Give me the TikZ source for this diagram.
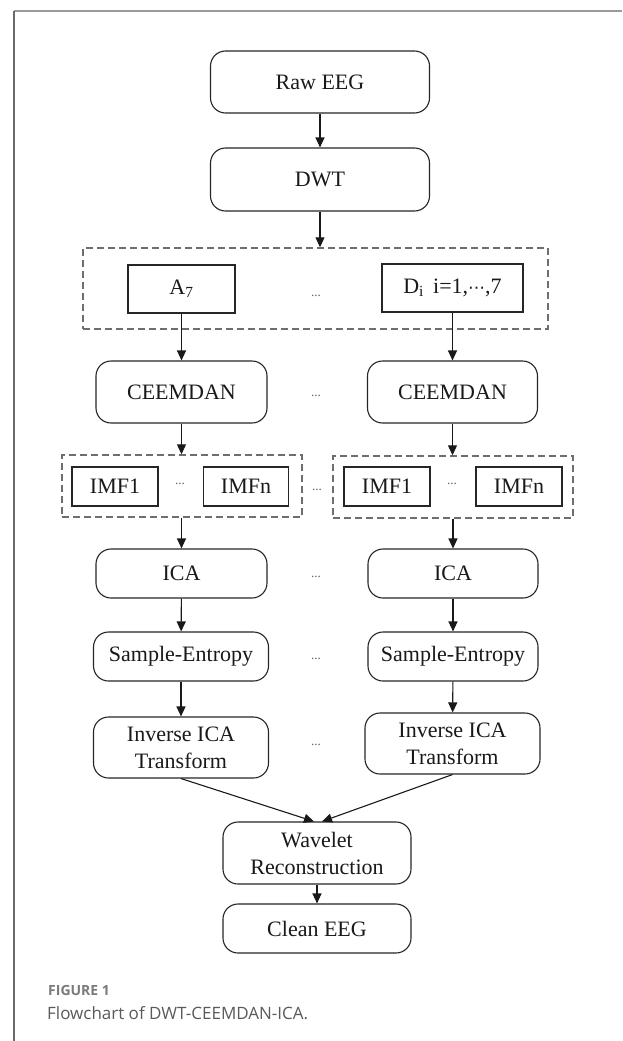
\documentclass[tikz,border=0pt]{standalone}
\usepackage{fontspec}
\setmainfont{Liberation Serif}
\newfontfamily\capfont{Open Sans}
\newfontfamily\symfont{DejaVu Sans}
\usetikzlibrary{arrows.meta,calc}
\definecolor{framegray}{HTML}{9A9A9A}
\definecolor{frameleft}{HTML}{6A6A6A}
\definecolor{dashgray}{HTML}{6E6E6E}
\definecolor{dotgray}{HTML}{606060}
\definecolor{capgray}{HTML}{7A7A7A}
\definecolor{captext}{HTML}{5A5A5A}
\tikzset{
  boxtext/.style={font=\fontsize{22}{27}\selectfont, text=black!90, align=center},
  rbox/.style={boxtext, draw=black!85, line width=1.1pt, rounded corners=15pt, inner sep=0pt},
  sbox/.style={boxtext, draw=black!85, line width=1.1pt, inner sep=0pt},
  dbox/.style={draw=dashgray, line width=1.4pt, dash pattern=on 7pt off 4pt, inner sep=0pt},
  dotsnode/.style={font=\fontsize{13}{13}\selectfont, text=dotgray, inner sep=0pt},
  arr/.style={draw=black!90, line width=1.1pt, -{Triangle[length=10pt,width=9pt]}},
}
\begin{document}
\begin{tikzpicture}[x=1pt,y=-1pt]
\useasboundingbox (0,0) rectangle (622,1041);
\fill[white] (0,0) rectangle (622,1041);
% outer frame
\draw[framegray, line width=2pt] (14,11) -- (622,11);
\draw[frameleft, line width=1.7pt] (14,11) -- (14,1041);

% top chain
\node[rbox, minimum width=219pt, minimum height=62pt] (raw) at (320,82) {Raw EEG};
\node[rbox, minimum width=219pt, minimum height=63pt] (dwt) at (320,179.5) {DWT};

% DWT outputs
\node[dbox, minimum width=465pt, minimum height=81pt] (big) at (315.5,288.5) {};
\node[sbox, minimum width=107pt, minimum height=48pt] (a7) at (181.5,289) {A\textsubscript{7}};
\node[sbox, minimum width=141pt, minimum height=48pt] (di) at (452.5,288) {D\textsubscript{i}\, i=1,{\symfont\fontsize{17}{17}\selectfont ⋯},7};
\node[dotsnode] (d1) at (316,296) {...};

% CEEMDAN
\node[rbox, minimum width=171pt, minimum height=62pt] (ceL) at (181.5,392) {CEEMDAN};
\node[rbox, minimum width=170pt, minimum height=62pt] (ceR) at (452.5,392) {CEEMDAN};
\node[dotsnode] (d2) at (316,396) {...};

% IMF groups
\node[dbox, minimum width=240pt, minimum height=62pt] (imfL) at (182,486) {};
\node[dbox, minimum width=240pt, minimum height=62pt] (imfR) at (453,487) {};
\node[sbox, minimum width=86pt, minimum height=39pt] (i1L) at (115,486.5) {IMF1};
\node[sbox, minimum width=85pt, minimum height=39pt] (inL) at (246,486.5) {IMFn};
\node[sbox, minimum width=86pt, minimum height=39pt] (i1R) at (387,486.5) {IMF1};
\node[sbox, minimum width=86pt, minimum height=39pt] (inR) at (519,486.5) {IMFn};
\node[dotsnode] (d3) at (180,484) {...};
\node[dotsnode] (d4) at (452,484) {...};
\node[dotsnode] (d5) at (317,490) {...};

% ICA
\node[rbox, minimum width=171pt, minimum height=49pt] (icaL) at (181.5,573.5) {ICA};
\node[rbox, minimum width=170pt, minimum height=49pt] (icaR) at (453,573.5) {ICA};
\node[dotsnode] (d6) at (316,577) {...};

% Sample entropy
\node[rbox, minimum width=175pt, minimum height=49pt] (seL) at (181,656.5) {Sample-Entropy};
\node[rbox, minimum width=170pt, minimum height=49pt] (seR) at (453,656.5) {Sample-Entropy};
\node[dotsnode] (d7) at (316,659) {...};

% Inverse ICA
\node[rbox, minimum width=175pt, minimum height=61pt] (invL) at (181,747.5) {Inverse ICA\\Transform};
\node[rbox, minimum width=175pt, minimum height=61pt] (invR) at (452.5,743.5) {Inverse ICA\\Transform};
\node[dotsnode] (d8) at (316,745) {...};

% Reconstruction
\node[rbox, minimum width=188pt, minimum height=62pt] (wav) at (317,853) {Wavelet\\Reconstruction};
\node[rbox, minimum width=188pt, minimum height=49pt] (clean) at (317,928.5) {Clean EEG};

% arrows
\draw[arr] (raw) -- (dwt);
\draw[arr] (dwt) -- (big.north -| dwt);
\draw[arr] (a7) -- (ceL);
\draw[arr] (di) -- (ceR);
\draw[arr] (ceL) -- (imfL.north -| ceL);
\draw[arr] (ceR) -- (imfR.north -| ceR);
\draw[arr] (imfL.south -| icaL) -- (icaL);
\draw[arr] (imfR.south -| icaR) -- (icaR);
\draw[arr] (icaL) -- (seL);
\draw[arr] (icaR) -- (seR);
\draw[arr] (seL) -- (invL);
\draw[arr] (seR) -- (invR);
\draw[arr] (invL.south) -- ([xshift=-3pt]wav.north);
\draw[arr] (invR.south) -- ([xshift=5pt]wav.north);
\draw[arr] (wav) -- (clean);

% caption
\node[anchor=west, inner sep=0pt, font=\capfont\bfseries\fontsize{14}{14}\selectfont, text=capgray] (figlab) at (48,990) {FIGURE 1};
\node[anchor=west, inner sep=0pt, font=\capfont\fontsize{17}{17}\selectfont, text=captext] (figcap) at (47,1013) {Flowchart of DWT-CEEMDAN-ICA.};
\end{tikzpicture}
\end{document}
